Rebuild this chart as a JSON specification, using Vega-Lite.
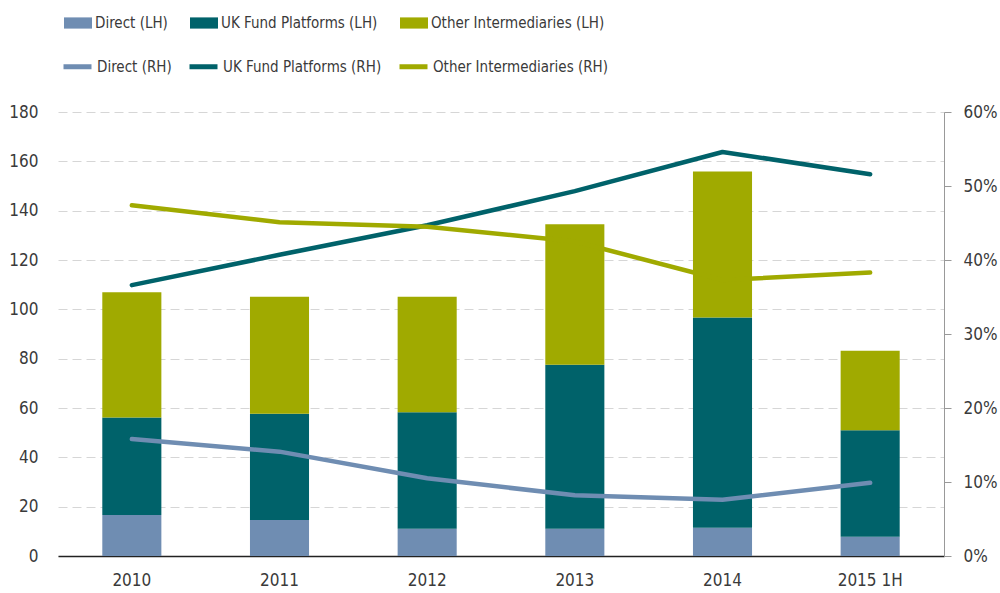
{
  "$schema": "https://vega.github.io/schema/vega-lite/v6.json",
  "autosize": "none",
  "width": 886,
  "height": 444,
  "padding": {"left": 58, "top": 112, "right": 56, "bottom": 37},
  "background": "white",
  "config": {
    "view": {"stroke": null},
    "font": "DejaVu Sans Condensed, sans-serif",
    "axis": {"labelFont": "DejaVu Sans Condensed, sans-serif", "labelColor": "#3a3a3a", "labelFontSize": 17, "titleColor": "#3a3a3a"},
    "legend": {"labelFont": "DejaVu Sans Condensed, sans-serif", "labelColor": "#3a3a3a", "labelFontSize": 15, "labelLimit": 400}
  },
  "datasets": {
    "bars": [
      {"year": "2010", "series": "Direct (LH)", "k": 1, "value": 16.6},
      {"year": "2010", "series": "UK Fund Platforms (LH)", "k": 2, "value": 39.5},
      {"year": "2010", "series": "Other Intermediaries (LH)", "k": 3, "value": 50.8},
      {"year": "2011", "series": "Direct (LH)", "k": 1, "value": 14.6},
      {"year": "2011", "series": "UK Fund Platforms (LH)", "k": 2, "value": 43.1},
      {"year": "2011", "series": "Other Intermediaries (LH)", "k": 3, "value": 47.4},
      {"year": "2012", "series": "Direct (LH)", "k": 1, "value": 11.0},
      {"year": "2012", "series": "UK Fund Platforms (LH)", "k": 2, "value": 47.3},
      {"year": "2012", "series": "Other Intermediaries (LH)", "k": 3, "value": 46.8},
      {"year": "2013", "series": "Direct (LH)", "k": 1, "value": 11.0},
      {"year": "2013", "series": "UK Fund Platforms (LH)", "k": 2, "value": 66.5},
      {"year": "2013", "series": "Other Intermediaries (LH)", "k": 3, "value": 57.0},
      {"year": "2014", "series": "Direct (LH)", "k": 1, "value": 11.5},
      {"year": "2014", "series": "UK Fund Platforms (LH)", "k": 2, "value": 85.2},
      {"year": "2014", "series": "Other Intermediaries (LH)", "k": 3, "value": 59.2},
      {"year": "2015 1H", "series": "Direct (LH)", "k": 1, "value": 7.8},
      {"year": "2015 1H", "series": "UK Fund Platforms (LH)", "k": 2, "value": 43.2},
      {"year": "2015 1H", "series": "Other Intermediaries (LH)", "k": 3, "value": 32.2}
    ],
    "lines": [
      {"year": "2010", "series": "Direct (RH)", "share": 0.158},
      {"year": "2011", "series": "Direct (RH)", "share": 0.141},
      {"year": "2012", "series": "Direct (RH)", "share": 0.105},
      {"year": "2013", "series": "Direct (RH)", "share": 0.082},
      {"year": "2014", "series": "Direct (RH)", "share": 0.076},
      {"year": "2015 1H", "series": "Direct (RH)", "share": 0.099},
      {"year": "2010", "series": "UK Fund Platforms (RH)", "share": 0.366},
      {"year": "2011", "series": "UK Fund Platforms (RH)", "share": 0.407},
      {"year": "2012", "series": "UK Fund Platforms (RH)", "share": 0.447},
      {"year": "2013", "series": "UK Fund Platforms (RH)", "share": 0.493},
      {"year": "2014", "series": "UK Fund Platforms (RH)", "share": 0.546},
      {"year": "2015 1H", "series": "UK Fund Platforms (RH)", "share": 0.516},
      {"year": "2010", "series": "Other Intermediaries (RH)", "share": 0.474},
      {"year": "2011", "series": "Other Intermediaries (RH)", "share": 0.451},
      {"year": "2012", "series": "Other Intermediaries (RH)", "share": 0.445},
      {"year": "2013", "series": "Other Intermediaries (RH)", "share": 0.425},
      {"year": "2014", "series": "Other Intermediaries (RH)", "share": 0.373},
      {"year": "2015 1H", "series": "Other Intermediaries (RH)", "share": 0.383}
    ]
  },
  "encoding": {
    "x": {
      "field": "year", "type": "nominal", "sort": null,
      "scale": {"type": "band", "paddingInner": 0.6, "paddingOuter": 0.3},
      "axis": {"title": null, "labelAngle": 0, "ticks": false, "domainColor": "#222222", "domainWidth": 1.5, "labelPadding": 16, "grid": false}
    }
  },
  "layer": [
    {
      "data": {"name": "bars"},
      "mark": {"type": "bar"},
      "encoding": {
        "y": {
          "field": "value", "type": "quantitative", "stack": "zero",
          "scale": {"domain": [0, 180], "nice": false},
          "axis": {"title": null, "orient": "left", "values": [0, 20, 40, 60, 80, 100, 120, 140, 160, 180], "domain": false, "ticks": false, "labelPadding": 20, "grid": true, "gridColor": "#d6d6d6", "gridDash": [9, 5], "gridWidth": 1}
        },
        "order": {"field": "k", "type": "quantitative", "sort": "ascending"},
        "fill": {
          "field": "series", "type": "nominal",
          "scale": {"domain": ["Direct (LH)", "UK Fund Platforms (LH)", "Other Intermediaries (LH)"], "range": ["#6f8db2", "#00626a", "#a0aa00"]},
          "legend": {"title": null, "orient": "none", "legendX": 6, "legendY": -103, "direction": "horizontal", "columns": 3, "gridAlign": "each", "columnPadding": 22, "symbolType": "M-1,-0.4H1V0.4H-1Z", "symbolSize": 784, "symbolOpacity": 1, "symbolStrokeWidth": 0, "labelOffset": 3}
        }
      }
    },
    {
      "data": {"name": "lines"},
      "mark": {"type": "line", "strokeWidth": 4.5, "strokeCap": "round", "strokeJoin": "round"},
      "encoding": {
        "y": {
          "field": "share", "type": "quantitative",
          "scale": {"domain": [0, 0.6], "nice": false},
          "axis": {"title": null, "orient": "right", "values": [0, 0.1, 0.2, 0.3, 0.4, 0.5, 0.6], "format": ".0%", "grid": false, "domainColor": "#999999", "domainWidth": 1, "tickColor": "#999999", "tickSize": 7, "labelPadding": 12}
        },
        "stroke": {
          "field": "series", "type": "nominal",
          "scale": {"domain": ["Direct (RH)", "UK Fund Platforms (RH)", "Other Intermediaries (RH)"], "range": ["#6f8db2", "#00626a", "#a0aa00"]},
          "legend": {"title": null, "orient": "none", "legendX": 3, "legendY": -62, "direction": "horizontal", "columns": 3, "gridAlign": "each", "columnPadding": 7, "symbolType": "stroke", "symbolSize": 784, "symbolStrokeWidth": 5, "labelOffset": 3}
        }
      }
    }
  ],
  "resolve": {"scale": {"y": "independent"}}
}
